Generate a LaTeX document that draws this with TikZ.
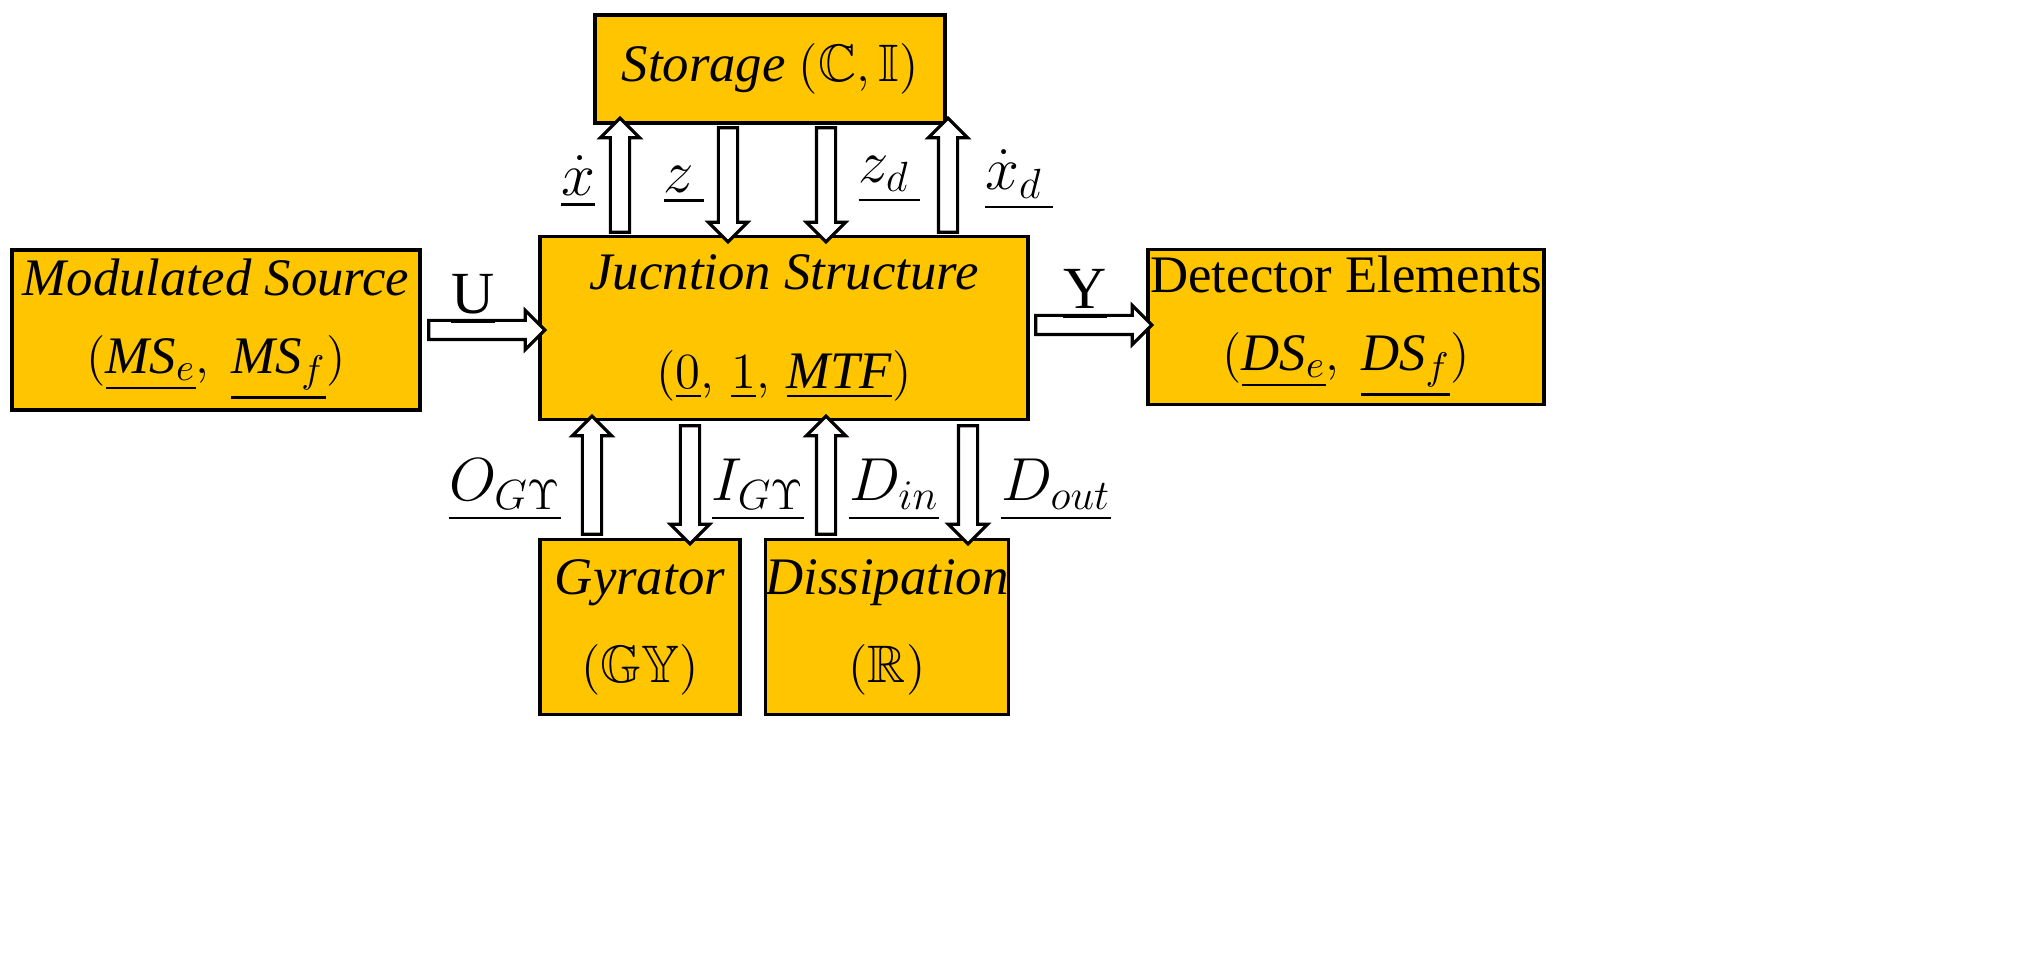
\documentclass[tikz,border=0pt]{standalone}
\usepackage{amssymb}
\usepackage{fontspec}
\setmainfont{Liberation Serif}
\usetikzlibrary{shapes.arrows}
\begin{document}
\begin{tikzpicture}[x=0.01cm,y=-0.01cm,
 box/.style={draw=black,line width=1pt,fill={rgb,255:red,255;green,198;blue,0},inner sep=0pt,font=\fontsize{15}{20}\selectfont,align=center},
 arr/.style={single arrow,draw=black,fill=white,line width=0.9pt,inner sep=0.08cm,single arrow head extend=0.1cm,single arrow head indent=0pt,anchor=center},
 lab/.style={font=\fontsize{17}{20}\selectfont}]
\useasboundingbox (0,0) rectangle (2044,958);
\node[box,minimum width=350*0.01cm,minimum height=108*0.01cm] (st) at (770,69) {\textit{Storage} $\bigl(\mathbb{C},\mathbb{I}\bigr)$};
\node[box,minimum width=488*0.01cm,minimum height=183*0.01cm] (js) at (784,328) {\textit{Jucntion Structure}\\[8pt] $\Bigl(\underline{0},\,\underline{1},\,\underline{\mathit{MTF}}\Bigr)$};
\node[box,minimum width=408*0.01cm,minimum height=160*0.01cm] (ms) at (216,330) {\textit{Modulated Source}\\[2pt] $\Bigl(\underline{\mathit{MS}_e},\ \underline{\mathit{MS}_f}\Bigr)$};
\node[box,minimum width=396*0.01cm,minimum height=155*0.01cm] (de) at (1346,327) {Detector Elements\\[2pt] $\Bigl(\underline{\mathit{DS}_e},\ \underline{\mathit{DS}_f}\Bigr)$};
\node[box,minimum width=200*0.01cm,minimum height=175*0.01cm] (gy) at (640,627) {\textit{Gyrator}\\[5pt] $\bigl(\mathbb{G}\mathbb{Y}\bigr)$};
\node[box,minimum width=242*0.01cm,minimum height=175*0.01cm] (di) at (887,627) {\textit{Dissipation}\\[5pt] $\bigl(\mathbb{R}\bigr)$};
% arrows
\node[arr,minimum height=114*0.01cm,shape border rotate=90] (a1) at (620,180) {};
\node[arr,minimum height=114*0.01cm,shape border rotate=270] (a2) at (728,180) {};
\node[arr,minimum height=114*0.01cm,shape border rotate=270] (a3) at (826,180) {};
\node[arr,minimum height=114*0.01cm,shape border rotate=90] (a4) at (948,180) {};
\node[arr,minimum height=118*0.01cm,shape border rotate=90] (a5) at (592,480) {};
\node[arr,minimum height=118*0.01cm,shape border rotate=270] (a6) at (690,480) {};
\node[arr,minimum height=118*0.01cm,shape border rotate=90] (a7) at (826,480) {};
\node[arr,minimum height=118*0.01cm,shape border rotate=270] (a8) at (968,480) {};
\node[arr,minimum height=116*0.01cm] (a9) at (482,330) {};
\node[arr,minimum height=116*0.01cm] (a10) at (1089,325) {};
% labels
\node[lab] at (578,182) {$\underline{\dot{x}}$};
\node[lab] at (684,185) {$\underline{z\,}$};
\node[lab] at (889,180) {$\underline{z_d\,}$};
\node[lab] at (1019,180) {$\underline{\dot{x}_d\,}$};
\node[lab] at (473,300) {$\underline{\mathrm{U}}$};
\node[lab] at (1085,295) {$\underline{\mathrm{Y}}$};
\node[lab] at (505,490) {$\underline{O_{G\Upsilon}}$};
\node[lab] at (758,490) {$\underline{I_{G\Upsilon}}$};
\node[lab] at (894,490) {$\underline{D_{in}}$};
\node[lab] at (1056,490) {$\underline{D_{out}}$};
\end{tikzpicture}
\end{document}
